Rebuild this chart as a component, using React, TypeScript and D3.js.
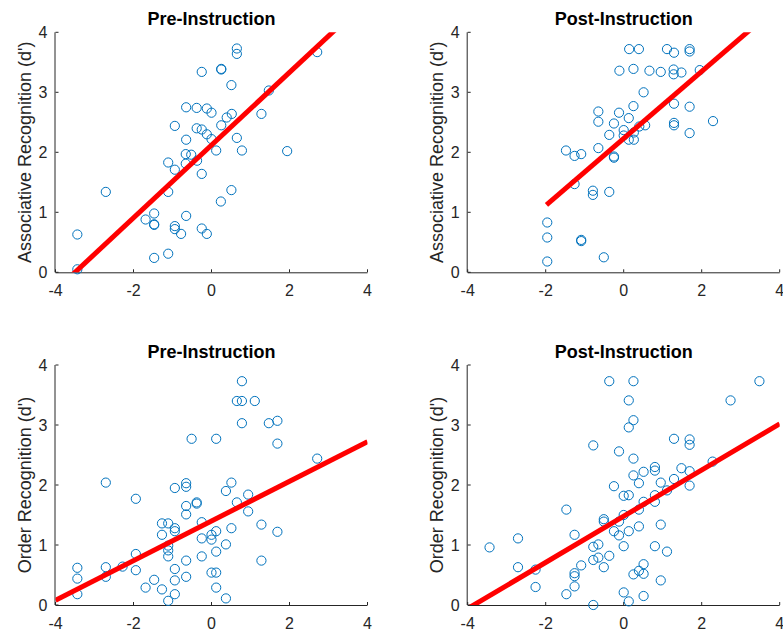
import React from 'react';
import * as d3 from 'd3';

// Associative recognition, pre-instruction
const preAssocX = [-3.44, -3.44, -2.71, -1.47, -1.11, -1.69, -1.47, -1.47, -1.47, -0.94, -0.94, -0.78, -0.65, -0.25, -0.12,
  -1.11, 0.24, 0.51, -1.11, -0.94, -0.66, -0.66, -0.52, -0.37, -0.25, -0.65, -0.94, -0.38, -0.25, -0.12, 0.0, 0.12, 0.25,
  0.39, 0.52, 0.65, 0.78, -0.65, -0.38, -0.12, 0.0, 1.28, 1.47, 1.94, -0.25, 0.25, 0.25, 0.51, 0.65, 0.65, 2.71];
const preAssocY = [0.05, 0.63, 1.34, 0.24, 0.31, 0.88, 0.98, 0.8, 0.79, 0.77, 0.72, 0.64, 0.94, 0.73, 0.64,
  1.34, 1.18, 1.37, 1.83, 1.71, 1.81, 1.97, 1.96, 1.86, 1.64, 2.21, 2.44, 2.4, 2.38, 2.3, 2.22, 2.03, 2.45,
  2.58, 2.64, 2.24, 2.03, 2.75, 2.74, 2.73, 2.66, 2.64, 3.03, 2.02, 3.34, 3.39, 3.38, 3.12, 3.73, 3.64, 3.67];

// Associative recognition, post-instruction
const postAssocX = [-1.96, -1.96, -1.96, -1.09, -1.09, -0.51, -1.26, -0.79, -0.79, -0.37, -1.48, -1.26, -1.09, -0.65, -0.25,
  -0.25, -0.37, -0.65, -0.65, -0.25, -0.12, 0.0, 0.0, 0.13, 0.26, 0.26, 0.4, 0.55, 0.13, 0.25, 0.51, 1.29, 1.29, 1.29,
  1.69, 1.69, 2.29, -0.11, 0.25, 0.66, 0.95, 1.28, 1.28, 1.48, 1.95, 0.14, 0.39, 1.11, 1.29, 1.69, 1.69];
const postAssocY = [0.18, 0.58, 0.83, 0.54, 0.52, 0.25, 1.47, 1.36, 1.29, 1.34, 2.03, 1.94, 1.97, 2.07, 1.93,
  1.91, 2.29, 2.51, 2.68, 2.48, 2.66, 2.37, 2.28, 2.21, 2.21, 2.33, 2.43, 2.45, 2.57, 2.77, 3.0, 2.81, 2.49, 2.45,
  2.76, 2.32, 2.52, 3.36, 3.39, 3.36, 3.34, 3.38, 3.3, 3.33, 3.37, 3.72, 3.72, 3.72, 3.66, 3.72, 3.68];

// Order recognition, pre-instruction
const preOrderX = [-3.44, -3.44, -3.44, -2.71, -2.71, -2.71, -2.28, -1.94, -1.94, -1.94, -1.69, -1.47, -1.27, -1.11, -0.94,
  -0.94, -0.94, -0.65, -0.65, -1.27, -1.27, -1.11, -0.94, -0.94, -1.11, -1.11, -1.11, -0.94, -0.65, -0.65, -0.65, -0.65,
  -0.38, -0.38, -0.25, -0.25, -0.25, 0.0, 0.0, 0.12, 0.12, 0.0, 0.12, 0.12, 0.37, 0.37, 0.51, 0.37, 0.51, 0.65, 0.94,
  0.94, 1.28, 1.28, 1.69, -0.51, 0.12, 1.69, 0.78, 1.47, 1.69, 0.65, 0.78, 1.11, 0.78, 2.71];
const preOrderY = [0.18, 0.44, 0.62, 2.04, 0.63, 0.47, 0.64, 1.77, 0.85, 0.58, 0.29, 0.42, 0.26, 0.07, 0.18,
  0.41, 0.6, 0.47, 0.74, 1.36, 1.17, 1.36, 1.28, 1.23, 0.99, 0.91, 0.81, 1.95, 2.03, 1.97, 1.65, 1.51,
  1.71, 1.69, 1.38, 1.11, 0.81, 1.17, 1.09, 1.23, 0.89, 0.54, 0.54, 0.29, 0.11, 1.01, 1.28, 1.9, 2.04, 1.71, 1.84,
  1.56, 1.34, 0.74, 1.22, 2.77, 2.77, 2.69, 3.03, 3.03, 3.07, 3.4, 3.4, 3.4, 3.73, 2.44];

// Order recognition, post-instruction
const postOrderX = [-3.44, -2.71, -2.71, -2.26, -2.26, -1.47, -1.47, -1.26, -1.26, -1.26, -1.26, -1.09, -0.78, -0.78, -0.78,
  -0.78, -0.65, -0.65, -0.51, -0.51, -0.51, -0.37, -0.37, -0.25, -0.25, -0.12, -0.12, -0.12, 0.0, 0.0, 0.0, 0.0, 0.13,
  0.13, 0.13, 0.13, 0.13, 0.25, 0.25, 0.25, 0.25, 0.25, 0.39, 0.39, 0.39, 0.39, 0.51, 0.51, 0.51, 0.51, 0.51, 0.8, 0.8,
  0.8, 0.8, 0.8, 0.95, 0.95, 0.95, 1.11, 1.11, 1.29, 1.29, 1.48, 1.69, 1.69, 1.69, 1.69, 2.28, 2.74, 3.48];
const postOrderY = [0.96, 1.11, 0.63, 0.59, 0.3, 1.59, 0.18, 1.17, 0.53, 0.48, 0.31, 0.66, 2.66, 0.97, 0.75,
  0.0, 1.01, 0.79, 1.43, 1.39, 0.63, 0.82, 3.73, 1.98, 1.23, 2.56, 1.39, 1.16, 1.5, 1.82, 0.98, 0.21, 1.83,
  1.23, 0.06, 3.41, 2.96, 3.73, 3.08, 2.44, 2.16, 0.51, 2.03, 1.59, 1.31, 0.57, 2.22, 1.72, 0.68, 0.52, 0.15, 2.3, 2.24,
  1.83, 1.72, 0.98, 2.04, 1.34, 0.41, 1.91, 0.89, 2.1, 2.77, 2.28, 2.76, 2.67, 2.23, 1.99, 2.39, 3.41, 3.73];

// least-squares lines: intercept, slope, x span
const fitIntercept = [2.12, 2.23, 1.4, 1.48];
const fitSlope = [0.606, 0.559, 0.33, 0.385];
const fitXStart = [-4, -1.98, -4, -4];
const fitXEnd = [4, 4, 4, 4];

const titles = ['Pre-Instruction', 'Post-Instruction', 'Pre-Instruction', 'Post-Instruction'];
const yLabels = ["Associative Recognition (d')", "Associative Recognition (d')", "Order Recognition (d')", "Order Recognition (d')"];
const xTicks = [-4, -2, 0, 2, 4];
const yTicks = [0, 1, 2, 3, 4];

const panelX = [preAssocX, postAssocX, preOrderX, postOrderX];
const panelY = [preAssocY, postAssocY, preOrderY, postOrderY];

const W = 783;
const H = 632;
const colLeft = [55.5, 467.7];
const rowTop = [32.3, 365];
const pw = 312;
const ph = 240;
const axisColor = '#262626';
const font = "'Liberation Sans', Arial, Helvetica, sans-serif";

function Panel({ idx }: { idx: number }) {
  const left = colLeft[idx % 2];
  const top = rowTop[Math.floor(idx / 2)];
  const x = d3.scaleLinear().domain([-4, 4]).range([0, pw]);
  const y = d3.scaleLinear().domain([0, 4]).range([ph, 0]);
  const xs = panelX[idx];
  const ys = panelY[idx];
  const line = d3.line<number>()
    .x((d) => x(d))
    .y((d) => y(fitIntercept[idx] + fitSlope[idx] * d));
  const clipId = `clip${idx}`;

  return (
    <g transform={`translate(${left},${top})`}>
      <defs>
        <clipPath id={clipId}>
          <rect x={0} y={0} width={pw} height={ph} />
        </clipPath>
      </defs>
      <text x={pw / 2} y={-7} textAnchor="middle" fontSize={18} fontWeight="bold" fill="#000" fontFamily={font}>
        {titles[idx]}
      </text>
      <text transform={`translate(${-25},${ph / 2}) rotate(-90)`} textAnchor="middle" fontSize={18}
        fill={axisColor} fontFamily={font}>
        {yLabels[idx]}
      </text>
      {/* axes */}
      <line x1={0} x2={pw} y1={ph + 0.5} y2={ph + 0.5} stroke={axisColor} strokeWidth={1} />
      <line x1={-0.5} x2={-0.5} y1={0} y2={ph} stroke={axisColor} strokeWidth={1} />
      {xTicks.map((t) => (
        <g key={`x${t}`}>
          <line x1={x(t)} x2={x(t)} y1={ph} y2={ph - 3} stroke={axisColor} />
          <text x={x(t)} y={ph + 24} textAnchor="middle" fontSize={16} fill={axisColor} fontFamily={font}>
            {t < 0 ? `-${Math.abs(t)}` : t}
          </text>
        </g>
      ))}
      {yTicks.map((t) => (
        <g key={`y${t}`}>
          <line x1={0} x2={3} y1={y(t)} y2={y(t)} stroke={axisColor} />
          <text x={-8} y={y(t)} dy="0.35em" textAnchor="end" fontSize={16} fill={axisColor} fontFamily={font}>
            {t}
          </text>
        </g>
      ))}
      {/* scatter */}
      {xs.map((d, i) => (
        <circle key={i} cx={x(d)} cy={y(ys[i])} r={4.6} fill="none" stroke="#0072BD" strokeWidth={1} />
      ))}
      {/* fit line */}
      <path d={line([fitXStart[idx], fitXEnd[idx]]) || ''} stroke="#FF0000" strokeWidth={5} fill="none"
        clipPath={`url(#${clipId})`} />
    </g>
  );
}

export default function App() {
  return (
    <svg width={W} height={H} style={{ position: 'absolute', left: 0, top: 0, background: '#fff' }}>
      <rect width={W} height={H} fill="#fff" />
      {[0, 1, 2, 3].map((i) => (
        <Panel key={i} idx={i} />
      ))}
    </svg>
  );
}
